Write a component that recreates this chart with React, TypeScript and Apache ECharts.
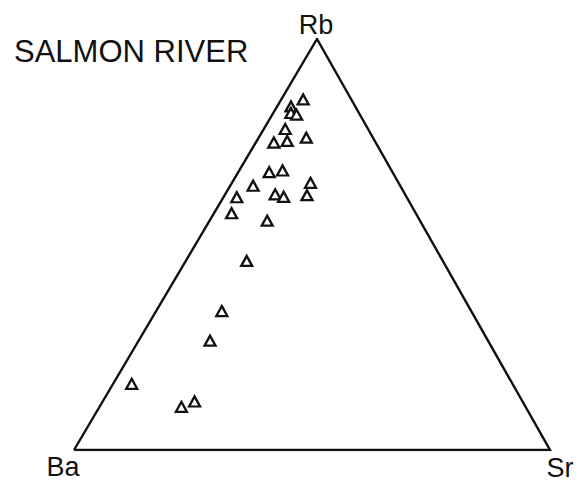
import React, { useEffect, useRef } from "react";
import * as echarts from "echarts";

// Ternary compositions (%)
const rb = [85.3, 83.6, 82.0, 81.6, 78.1, 74.8, 75.2, 76.0, 67.6, 68.0, 64.3, 65.0, 61.5, 62.2, 61.6, 62.0, 57.6, 55.8, 46.0, 33.8, 26.6, 16.1, 11.8, 10.5];
const ba = [10.1, 13.5, 14.3, 13.3, 17.4, 21.4, 18.4, 14.0, 25.9, 22.9, 30.9, 18.5, 35.7, 27.3, 25.8, 20.7, 38.7, 32.1, 41.2, 52.4, 58.4, 80.0, 68.9, 72.3];
const sr = [4.6, 2.9, 3.7, 5.1, 4.5, 3.8, 6.4, 10.0, 6.5, 9.1, 4.8, 16.5, 2.8, 10.5, 12.6, 17.3, 3.7, 12.1, 12.8, 13.8, 15.0, 3.9, 19.3, 17.2];

const vertexLabels = ["Ba", "Sr", "Rb"];
const title = "SALMON RIVER";

// apex horizontal position (fraction of base) as drawn in the figure
const APEX_X = 0.5105;

function toXY(r: number, b: number, s: number): [number, number] {
  const t = r + b + s;
  const fr = r / t;
  const fs = s / t;
  return [fs + fr * APEX_X, fr];
}

export default function App() {
  const ref = useRef<HTMLDivElement>(null);
  useEffect(() => {
    if (!ref.current) return;
    const chart = echarts.init(ref.current, undefined, { renderer: "svg" });
    const pts = rb.map((r, i) => toXY(r, ba[i], sr[i]));
    const verts: [number, number][] = [toXY(0, 100, 0), toXY(0, 0, 100), toXY(100, 0, 0)];
    const font = "'Liberation Sans', Arial, Helvetica, sans-serif";
    const labelOffsets: [number, number][] = [[-11, 17], [10, 18], [-1, -14]];
    chart.setOption({
      animation: false,
      backgroundColor: "#ffffff",
      title: {
        text: title,
        left: 9,
        top: 31,
        textStyle: { fontFamily: font, fontSize: 31, fontWeight: "normal", color: "#111111" },
      },
      grid: { left: 74, right: 29, top: 39, bottom: 32 },
      xAxis: { type: "value", min: 0, max: 1, show: false },
      yAxis: { type: "value", min: 0, max: 1, show: false },
      series: [
        {
          type: "line",
          data: [verts[0], verts[1], verts[2], verts[0]],
          symbol: "none",
          lineStyle: { color: "#111111", width: 2.4, join: "miter" },
          silent: true,
          z: 1,
        },
        {
          type: "scatter",
          data: verts.map((v, i) => ({
            value: v,
            label: {
              show: true,
              formatter: vertexLabels[i],
              position: "inside",
              offset: labelOffsets[i],
              fontFamily: font,
              fontSize: 27,
              color: "#111111",
              textBorderWidth: 0,
              opacity: 1,
            },
          })),
          symbolSize: 0,
          itemStyle: { opacity: 1 },
          silent: true,
          z: 2,
        },
        {
          type: "scatter",
          data: pts,
          symbol: "triangle",
          symbolSize: [11, 10],
          itemStyle: { color: "#ffffff", borderColor: "#111111", borderWidth: 2.3, opacity: 1 },
          z: 3,
        },
      ],
    });
    return () => chart.dispose();
  }, []);
  return (
    <div
      ref={ref}
      style={{ position: "fixed", left: 0, top: 0, width: 579, height: 482 }}
    />
  );
}
